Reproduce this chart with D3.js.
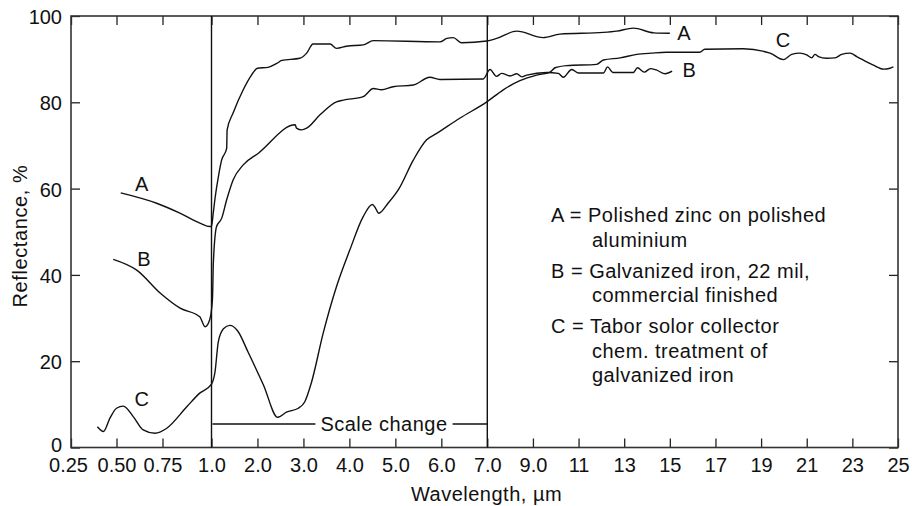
<!DOCTYPE html>
<html>
<head>
<meta charset="utf-8">
<script src="https://cdn.jsdelivr.net/npm/d3@7"></script>
<style>
  html, body { margin: 0; padding: 0; background: #fff; }
  svg { display: block; }
  text { font-family: "Liberation Sans", Arial, Helvetica, sans-serif; fill: #111; }
</style>
</head>
<body>
<svg id="chart" width="912" height="506"></svg>
<script>
// ---------------- data ----------------
const xTicks = [0.25, 0.5, 0.75, 1, 2, 3, 4, 5, 6, 7, 9, 11, 13, 15, 17, 19, 21, 23, 25];
const xTickLabels = ["0.25", "0.50", "0.75", "1.0", "2.0", "3.0", "4.0", "5.0", "6.0", "7.0",
                     "9.0", "11", "13", "15", "17", "19", "21", "23", "25"];
const yTicks = [0, 20, 40, 60, 80, 100];
const scaleBreaks = [1.0, 7.0];

// Curve A: polished zinc on polished aluminium
const wavelengthA = [0.523, 0.718, 0.839, 0.941, 0.992, 1.0, 1.04, 1.08, 1.15, 1.22, 1.33, 1.34, 1.47, 1.69, 1.87, 2.0,
  2.23, 2.42, 2.53, 2.92, 3.07, 3.21, 3.58, 3.72, 3.94, 4.30, 4.52, 5.97, 6.12, 6.26, 6.44, 6.99, 7.41, 8.29,
  9.45, 10.18, 12.09, 12.67, 13.4, 14.3, 15.0];
const reflectanceA = [59.0, 56.6, 54.3, 52.0, 51.2, 51.3, 54.5, 58.0, 62.8, 66.6, 69.3, 73.6, 77.5, 82.9, 86.3, 87.9,
  88.1, 89.0, 89.7, 90.2, 91.4, 93.5, 93.5, 92.5, 93.0, 93.3, 94.3, 94.0, 94.8, 95.0, 93.8, 94.2, 94.8, 96.5,
  95.0, 95.8, 96.2, 96.5, 97.2, 96.1, 96.0];

// Curve B: galvanized iron, 22 mil, commercial finished
const wavelengthB = [0.482, 0.61, 0.74, 0.84, 0.94, 0.967, 0.99, 1.02, 1.04, 1.11, 1.22, 1.33, 1.47, 1.69, 2.02, 2.82,
  2.85, 2.96, 3.07, 3.36, 3.72, 3.87, 4.30, 4.52, 4.70, 4.95, 5.39, 5.75, 5.97, 6.91, 7.12, 7.4, 7.63, 8.0, 8.29,
  8.51, 8.73, 9.6, 10.11, 10.33, 10.7, 11.0, 12.09, 12.27, 12.5, 13.4, 13.58, 13.88, 14.15, 14.4, 14.8, 15.1];
const reflectanceB = [43.6, 41.1, 35.7, 32.3, 30.3, 28.0, 29.5, 34.2, 42.7, 51.2, 53.1, 57.4, 62.0, 65.5, 68.2, 74.8,
  74.0, 73.6, 74.0, 77.1, 80.1, 80.5, 81.3, 83.2, 82.9, 83.6, 84.0, 85.8, 85.3, 85.4, 87.6, 86.0, 86.7, 86.1, 86.6,
  85.9, 86.3, 86.9, 86.7, 85.8, 87.6, 86.8, 86.8, 88.2, 86.9, 86.9, 88.0, 87.0, 87.8, 87.5, 86.6, 87.2];

// Curve C: Tabor solar collector, chem. treatment of galvanized iron
const wavelengthC = [0.395, 0.428, 0.464, 0.50, 0.537, 0.592, 0.645, 0.71, 0.77, 0.875, 0.94, 1.0, 1.076, 1.148, 1.26,
  1.40, 1.57, 1.80, 2.13, 2.44, 2.63, 2.89, 3.03, 3.17, 3.43, 3.72, 4.01, 4.30, 4.50, 4.55, 4.64, 4.84, 5.08, 5.39,
  5.68, 5.90, 6.40, 6.99, 7.7, 8.43, 9.16, 9.75, 9.97, 10.48, 11.79, 12.09, 12.82, 13.55, 14.2, 14.86, 16.31, 16.53,
  18.22, 19.39, 19.97, 20.34, 20.7, 21.0, 21.22, 21.36, 21.51, 21.87, 22.24, 22.53, 22.9, 23.19, 23.92, 24.36, 24.65, 24.8];
const reflectanceC = [4.8, 3.7, 6.8, 9.1, 9.6, 7.1, 4.1, 3.3, 4.4, 9.5, 12.6, 14.7, 17.5, 24.5, 27.5,
  28.3, 27.0, 22.0, 14.5, 7.0, 8.2, 9.1, 10.6, 14.9, 26.5, 37.3, 45.8, 53.5, 56.3, 55.8, 54.3, 56.6, 60.0, 66.6,
  71.3, 72.8, 76.3, 80.1, 82.9, 85.0, 86.3, 87.0, 88.0, 88.5, 88.8, 89.8, 90.3, 91.1, 91.4, 91.6, 91.6, 92.3,
  92.4, 91.4, 89.9, 91.1, 91.4, 91.0, 90.3, 91.1, 90.6, 90.2, 90.3, 91.1, 91.4, 90.6, 88.6, 87.7, 87.9, 88.2];

const curveLabels = [
  { text: "A", wl: 0.637, r: 61.2 }, { text: "B", wl: 0.649, r: 43.8 }, { text: "C", wl: 0.637, r: 11.4 },
  { text: "A", wl: 15.62, r: 96.2 }, { text: "B", wl: 15.85, r: 87.6 }, { text: "C", wl: 19.96, r: 94.6 }
];
const legendEntries = [
  ["A = Polished zinc on polished", "aluminium"],
  ["B = Galvanized iron, 22 mil,", "commercial finished"],
  ["C = Tabor solor collector", "chem. treatment of", "galvanized iron"]
];

// ---------------- layout ----------------
const plot = { left: 71, right: 898, top: 16, bottom: 447.5 };
const svg = d3.select("#chart");

// piecewise wavelength axis with two scale changes (at 1.0 and 7.0 µm)
const x = d3.scaleLinear()
  .domain([0.25, 0.5, 0.75, 1.0, 7.0, 25])
  .range([plot.left, 116.5, 162.5, 211.5, 487.3, plot.right]);
const y = d3.scaleLinear().domain([0, 100]).range([plot.bottom, plot.top]);

const tickFont = "20px";

// bottom axis
const gB = svg.append("g").attr("transform", `translate(0,${plot.bottom})`)
  .call(d3.axisBottom(x).tickValues(xTicks).tickFormat((d, i) => xTickLabels[i])
    .tickSizeInner(-9).tickSizeOuter(0).tickPadding(10));
// top axis
const gT = svg.append("g").attr("transform", `translate(0,${plot.top})`)
  .call(d3.axisTop(x).tickValues(xTicks).tickFormat("").tickSizeInner(-9).tickSizeOuter(0));
// left axis
const gL = svg.append("g").attr("transform", `translate(${plot.left},0)`)
  .call(d3.axisLeft(y).tickValues(yTicks).tickFormat(d3.format("d"))
    .tickSizeInner(-9).tickSizeOuter(0).tickPadding(9));
// right axis
const gR = svg.append("g").attr("transform", `translate(${plot.right},0)`)
  .call(d3.axisRight(y).tickValues(yTicks).tickFormat("").tickSizeInner(-9).tickSizeOuter(0));

[gB, gT, gL, gR].forEach(g => {
  g.select(".domain").remove();
  g.selectAll(".tick line").attr("stroke", "#222").attr("stroke-width", 1.3);
  g.selectAll(".tick text").style("font-size", tickFont).attr("fill", "#111")
    .style("font-family", "'Liberation Sans', Arial, sans-serif");
});
gL.selectAll(".tick text").attr("dy", d => d === 0 ? "0.22em" : "0.38em");
gB.selectAll(".tick text").attr("dx", d => d === 0.25 ? "-3px" : 0);

// frame
svg.append("rect")
  .attr("x", plot.left).attr("y", plot.top)
  .attr("width", plot.right - plot.left).attr("height", plot.bottom - plot.top)
  .attr("fill", "none").attr("stroke", "#333").attr("stroke-width", 1.6);

// scale-change vertical lines
svg.selectAll("line.break").data(scaleBreaks).join("line")
  .attr("class", "break")
  .attr("x1", d => x(d)).attr("x2", d => x(d))
  .attr("y1", plot.top).attr("y2", plot.bottom)
  .attr("stroke", "#111").attr("stroke-width", 1.4);

// curves
const line = d3.line().x(d => x(d[0])).y(d => y(d[1])).curve(d3.curveMonotoneX);
const series = [
  d3.zip(wavelengthA, reflectanceA),
  d3.zip(wavelengthB, reflectanceB),
  d3.zip(wavelengthC, reflectanceC)
];
svg.selectAll("path.curve").data(series).join("path")
  .attr("class", "curve")
  .attr("d", line)
  .attr("fill", "none").attr("stroke", "#111").attr("stroke-width", 1.4)
  .attr("stroke-linejoin", "round");

// curve letters
svg.selectAll("text.clabel").data(curveLabels).join("text")
  .attr("class", "clabel")
  .attr("x", d => x(d.wl)).attr("y", d => y(d.r))
  .attr("dy", "0.36em").attr("text-anchor", "middle")
  .style("font-size", "20px")
  .text(d => d.text);

// scale change annotation
const scY = 424;
const scText = svg.append("text")
  .attr("x", 384).attr("y", scY).attr("dy", "0.36em")
  .attr("text-anchor", "middle").style("font-size", "20px").style("letter-spacing", "0.5px")
  .text("Scale change");
const bb = scText.node().getBBox();
svg.append("line").attr("x1", x(scaleBreaks[0]) + 1).attr("x2", bb.x - 5)
  .attr("y1", scY).attr("y2", scY).attr("stroke", "#111").attr("stroke-width", 1.3);
svg.append("line").attr("x1", bb.x + bb.width + 5).attr("x2", x(scaleBreaks[1]))
  .attr("y1", scY).attr("y2", scY).attr("stroke", "#111").attr("stroke-width", 1.3);

// legend text
const legX = 551, legIndent = 592, lineGap = 24.6, entryGap = 31;
let by = 222;
legendEntries.forEach((entry) => {
  entry.forEach((t, j) => {
    svg.append("text")
      .attr("x", j === 0 ? legX : legIndent).attr("y", by)
      .style("font-size", "20px").style("letter-spacing", "0.5px")
      .text(t);
    if (j < entry.length - 1) by += lineGap;
  });
  by += entryGap;
});

// axis titles
svg.append("text")
  .attr("x", (plot.left + plot.right) / 2 + 2).attr("y", 501)
  .attr("text-anchor", "middle").style("font-size", "20px").style("letter-spacing", "0.5px")
  .text("Wavelength, µm");
svg.append("text")
  .attr("transform", `translate(27,236) rotate(-90)`)
  .attr("text-anchor", "middle").style("font-size", "20px").style("letter-spacing", "0.6px")
  .text("Reflectance, %");
</script>
</body>
</html>
